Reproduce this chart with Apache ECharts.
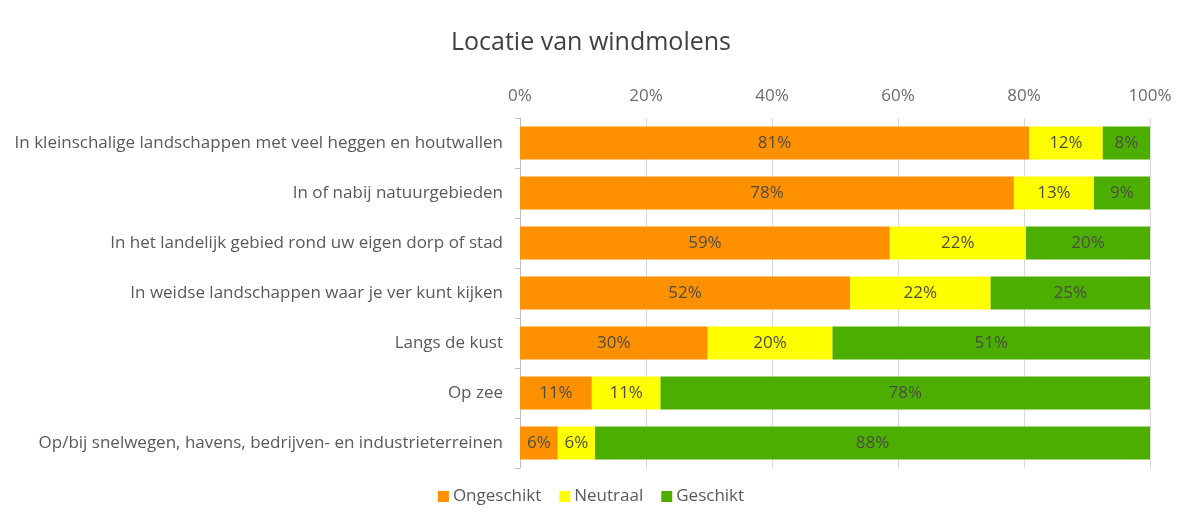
<!DOCTYPE html>
<html>
<head>
<meta charset="utf-8">
<script src="https://cdn.jsdelivr.net/npm/echarts@6/dist/echarts.min.js"></script>
<style>
  html, body { margin: 0; padding: 0; background: #fff; }
  #container { width: 1182px; height: 522px; }
</style>
</head>
<body>
<div id="container"></div>
<script>
var categories = [
    'In kleinschalige landschappen met veel heggen en houtwallen',
    'In of nabij natuurgebieden',
    'In het landelijk gebied rond uw eigen dorp of stad',
    'In weidse landschappen waar je ver kunt kijken',
    'Langs de kust',
    'Op zee',
    'Op/bij snelwegen, havens, bedrijven- en industrieterreinen'
];
var ongeschikt = [80.8, 78.4, 58.7, 52.4, 29.8, 11.4, 6.0];
var neutraal   = [11.7, 12.7, 21.6, 22.3, 19.8, 10.9, 5.9];
var geschikt   = [7.5, 8.9, 19.7, 25.3, 50.6, 77.7, 88.1];

var fontName = 'Open Sans';

function barSeries(name, data, color) {
    return {
        name: name,
        type: 'bar',
        stack: 'totaal',
        barWidth: '66%',
        data: data,
        itemStyle: { color: color },
        label: {
            show: true,
            position: 'inside',
            color: '#4d4d40',
            fontFamily: fontName,
            fontSize: 17,
            formatter: function (p) { return Math.round(p.value) + '%'; }
        }
    };
}

var dom = document.getElementById('container');
var myChart = echarts.init(dom);
var option = {
    backgroundColor: '#fff',
    title: {
        text: 'Locatie van windmolens',
        left: 'center',
        top: 25,
        textStyle: { fontFamily: fontName, fontSize: 25, fontWeight: 'normal', color: '#404040' }
    },
    legend: {
        bottom: 12,
        left: 'center',
        itemWidth: 11,
        itemHeight: 11,
        itemGap: 18,
        icon: 'rect',
        textStyle: { fontFamily: fontName, fontSize: 17, color: '#595959', padding: [0, 0, 0, -1] },
        data: ['Ongeschikt', 'Neutraal', 'Geschikt']
    },
    grid: { left: 520, right: 32, top: 118, bottom: 54, containLabel: false },
    xAxis: {
        type: 'value',
        position: 'top',
        min: 0,
        max: 100,
        interval: 20,
        axisLine: { show: false },
        axisTick: { show: false },
        axisLabel: { formatter: '{value}%', fontFamily: fontName, fontSize: 17, color: '#6b6b6b', margin: 13 },
        splitLine: { lineStyle: { color: '#d9d9d9' } }
    },
    yAxis: {
        type: 'category',
        inverse: true,
        data: categories,
        axisLine: { lineStyle: { color: '#bfbfbf' } },
        axisTick: { show: true, length: 5, lineStyle: { color: '#bfbfbf' } },
        axisLabel: { fontFamily: fontName, fontSize: 17, color: '#595959', margin: 17 }
    },
    series: [
        barSeries('Ongeschikt', ongeschikt, '#ff9000'),
        barSeries('Neutraal', neutraal, '#ffff00'),
        barSeries('Geschikt', geschikt, '#4caf00')
    ]
};
if (option && typeof option === 'object') {
    myChart.setOption(option, true);
}
</script>
</body>
</html>
